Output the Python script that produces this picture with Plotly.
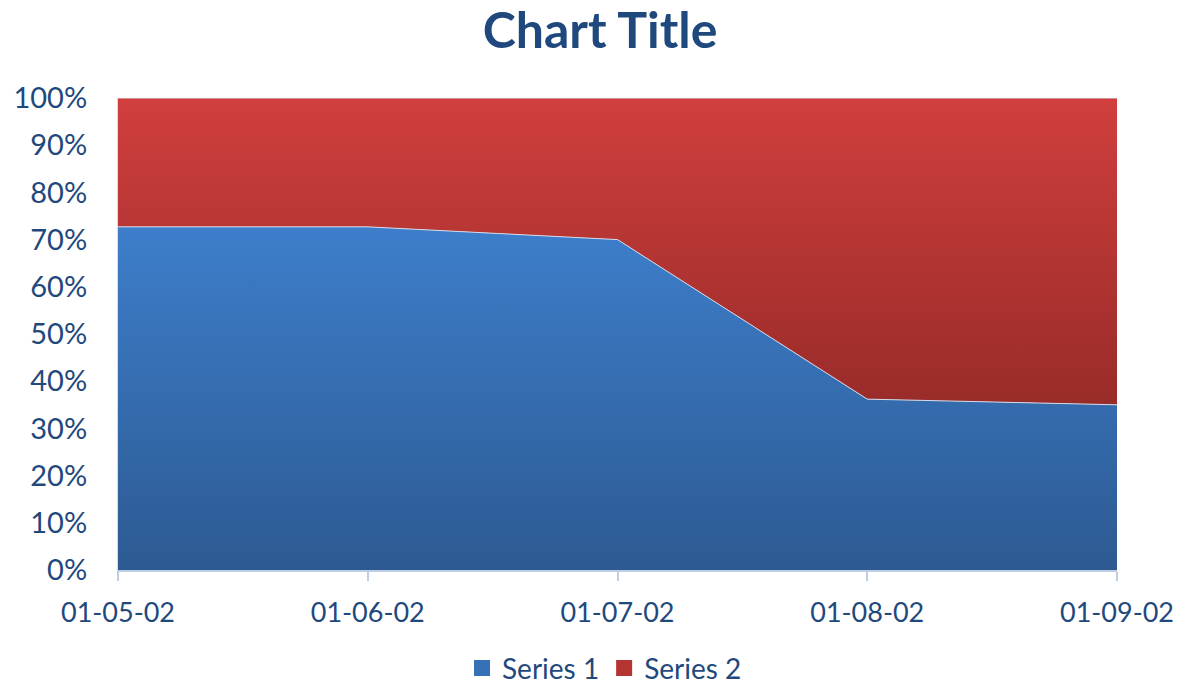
import plotly.graph_objects as go

# categories and stacked shares (percent of total)
dates = ["01-05-02", "01-06-02", "01-07-02", "01-08-02", "01-09-02"]
series1 = [72.7, 72.7, 70.0, 36.2, 35.0]
series2 = [27.3, 27.3, 30.0, 63.8, 65.0]
names = ["Series 1", "Series 2"]

TXT = "#1F497D"
FONT = "Lato, 'Open Sans', sans-serif"
EDGE = "#D3DAEA"

W, H = 1178, 687

fig = go.Figure()
fig.add_trace(go.Scatter(
    x=dates, y=series1, name=names[0], mode="lines",
    stackgroup="one", groupnorm="percent", showlegend=False,
    line=dict(width=1, color=EDGE),
    fillgradient=dict(type="vertical", start=0, stop=73,
                      colorscale=[[0, "#2D5A92"], [1, "#3D7ECB"]]),
))
fig.add_trace(go.Scatter(
    x=dates, y=series2, name=names[1], mode="lines",
    stackgroup="one", showlegend=False,
    line=dict(width=1, color=EDGE),
    fillgradient=dict(type="vertical", start=27, stop=100,
                      colorscale=[[0, "#922927"], [1, "#D03F3D"]]),
))
# square legend swatches
for nm, col in zip(names, ["#3670B6", "#B53432"]):
    fig.add_trace(go.Scatter(
        x=[None], y=[None], mode="markers", name=nm,
        marker=dict(symbol="square", size=16, color=col),
    ))

fig.update_layout(
    width=W, height=H,
    paper_bgcolor="white", plot_bgcolor="white",
    margin=dict(l=118, r=61, t=98, b=117, autoexpand=False),
    font=dict(family=FONT, color=TXT, size=27),
    title=dict(text="<b>Chart Title</b>", x=600 / W, xanchor="center",
               y=1 - 30 / H, yanchor="middle", font=dict(size=50, color=TXT)),
    showlegend=True,
    legend=dict(orientation="h", x=0.487, xanchor="center", y=-0.208,
                yanchor="middle", traceorder="normal", itemwidth=30,
                font=dict(size=28, color=TXT)),
    hovermode=False,
)
fig.update_xaxes(
    type="category", range=[0, 4], showgrid=False, automargin=False,
    showline=True, linecolor="#BFCDE2", linewidth=2,
    ticks="outside", ticklen=9, tickcolor="#BFCDE2", tickwidth=2,
    ticklabelstandoff=9,
    tickfont=dict(size=27, color=TXT), zeroline=False,
)
fig.update_yaxes(
    range=[0, 100], dtick=10, ticksuffix="%", showgrid=False,
    automargin=False, showline=True, linecolor=EDGE, linewidth=1,
    zeroline=False, ticks="", ticklabelstandoff=24,
    tickfont=dict(size=29, color=TXT),
)
# drop the default body margin so the figure fills the window exactly
fig.write_html(
    "out.html",
    config={"displayModeBar": False},
    post_script="document.body.style.margin='0';document.body.style.overflow='hidden';",
)
